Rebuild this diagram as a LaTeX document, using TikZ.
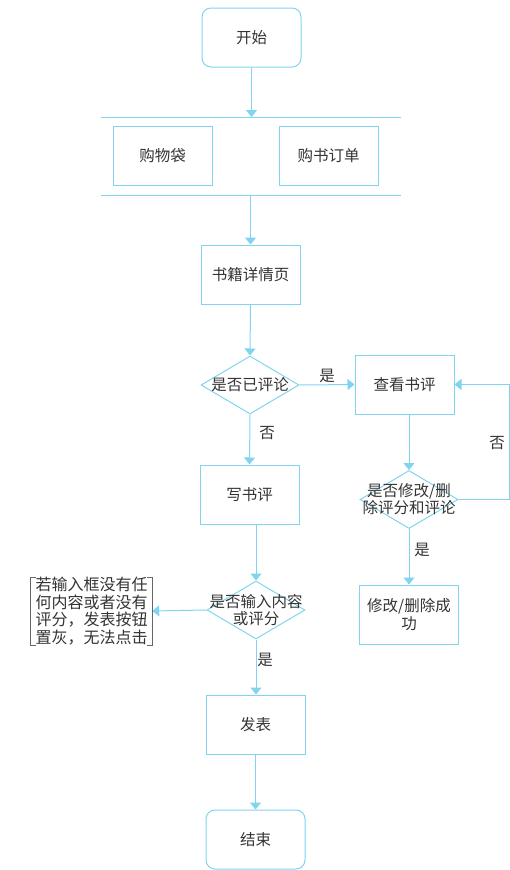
\documentclass[tikz,border=0pt]{standalone}
\usepackage{fontspec}
\setmainfont{Noto Sans CJK SC}
\usetikzlibrary{shapes.geometric,arrows.meta}
\definecolor{lb}{HTML}{80D4F0}
\definecolor{tx}{HTML}{333333}
\definecolor{gy}{HTML}{666666}
\begin{document}
\begin{tikzpicture}[x=1pt,y=-1pt,
  every node/.style={font=\fontsize{15.5}{18}\selectfont, text=tx},
  box/.style={draw=lb, line width=1pt, minimum width=99pt, minimum height=59pt, inner sep=2pt, align=center},
  rbox/.style={box, rounded corners=9pt},
  dia/.style={diamond, draw=lb, line width=1pt, minimum width=98pt, minimum height=58pt, inner sep=0pt},
  dtext/.style={align=center, inner sep=0pt, font=\fontsize{15.5}{17}\selectfont},
  arr/.style={draw=lb, line width=1pt, -{Triangle[width=11pt,length=7pt]}},
  ln/.style={draw=lb, line width=1pt},
  lbl/.style={inner sep=0pt},
  brk/.style={draw=gy, line width=0.8pt}
]
\useasboundingbox (0,0) rectangle (510,870);
% nodes
\node[rbox] (start) at (251.5,37.5) {开始};
\coordinate (busA) at (101,117);
\coordinate (busAe) at (401,117);
\coordinate (busB) at (101,195);
\coordinate (busBe) at (401,195);
\node[box] (bag) at (162.5,155.5) {购物袋};
\node[box] (order) at (328.5,155.5) {购书订单};
\node[box] (detail) at (250.5,274.5) {书籍详情页};
\node[dia] (d1) at (250,385) {};
\node[dtext] (d1t) at (d1) {是否已评论};
\node[box] (view) at (404.5,384.5) {查看书评};
\node[box] (write) at (249.5,494.5) {写书评};
\node[dia] (d2) at (409,499.5) {};
\node[dtext] (d2t) at (d2) {是否修改/删\\除评分和评论};
\node[box] (done) at (409,614.5) {修改/删除成\\功};
\node[dia] (d3) at (256,610) {};
\node[dtext] (d3t) at (d3) {是否输入内容\\或评分};
\node[inner sep=0pt, minimum width=121pt, minimum height=62pt, align=center,
      font=\fontsize{16}{17.5}\selectfont] (note) at (91.5,611)
  {若输入框没有任\\何内容或者没有\\评分，发表按钮\\置灰，无法点击};
\node[box] (pub) at (255.5,724.5) {发表};
\node[rbox] (end) at (255.5,839.5) {结束};
\coordinate (rt) at (509,499.5);
% bus lines
\draw[ln] (busA) -- (busAe);
\draw[ln] (busB) -- (busBe);
% connectors
\draw[arr] (start.south) -- (start.south |- busA);
\draw[arr] (detail.north |- busB) -- (detail.north);
\draw[arr] (detail.south) -- (d1.north);
\draw[arr] (d1.east) -- (view.west);
\node[lbl] (y1) at (327,376) {是};
\draw[arr] (d1.south) -- (write.north);
\node[lbl] (n1) at (267,433) {否};
\draw[arr] (d2.north |- view.south) -- (d2.north);
\draw[arr] (d2.east) -- (rt) |- (view.east);
\node[lbl] (n2) at (497,443) {否};
\draw[arr] (d2.south) -- (done.north);
\node[lbl] (y2) at (422,550) {是};
\draw[arr] (d3.north |- write.south) -- (d3.north);
\draw[arr] (d3.west) -- (note.east);
\draw[arr] (d3.south) -- (d3.south |- pub.north);
\node[lbl] (y3) at (265,660) {是};
\draw[arr] (pub.south) -- (end.north);
% annotation bracket
\draw[brk] ([xshift=5pt]note.north west) -- (note.north west) -- (note.south west) -- ([xshift=5pt]note.south west);
\draw[brk] ([xshift=-5pt]note.north east) -- (note.north east) -- (note.south east) -- ([xshift=-5pt]note.south east);
\end{tikzpicture}
\end{document}
